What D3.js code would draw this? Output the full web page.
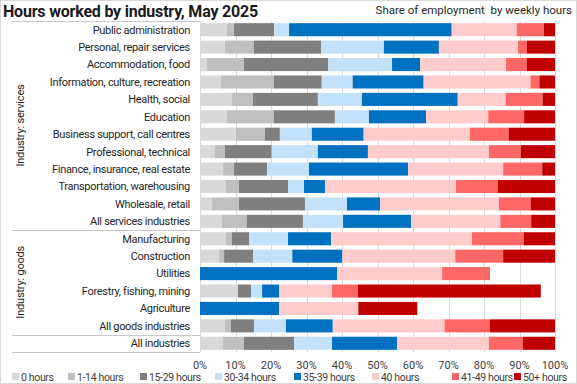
<!DOCTYPE html>
<html>
<head>
<meta charset="utf-8">
<script src="https://cdn.jsdelivr.net/npm/d3@7"></script>
<style>
  body { margin: 0; background: #fff; }
  svg text { font-family: "Liberation Sans Narrow", "Roboto", sans-serif; }
</style>
</head>
<body>
<div id="HoursChart"></div>
<script>
var industries = [
  'Public administration', 'Personal, repair services', 'Accommodation, food',
  'Information, culture, recreation', 'Health, social', 'Education',
  'Business support, call centres', 'Professional, technical',
  'Finance, insurance, real estate', 'Transportation, warehousing',
  'Wholesale, retail', 'All services industries',
  'Manufacturing', 'Construction', 'Utilities', 'Forestry, fishing, mining',
  'Agriculture', 'All goods industries',
  'All industries'
];
var hourBands = ['0 hours', '1-14 hours', '15-29 hours', '30-34 hours', '35-39 hours', '40 hours', '41-49 hours', '50+ hours'];
var groups = [
  { label: 'Industry: services', from: 'Public administration', to: 'All services industries' },
  { label: 'Industry: goods', from: 'Manufacturing', to: 'All goods industries' }
];
var ticks = [0, 10, 20, 30, 40, 50, 60, 70, 80, 90, 100];

// share of employment (%) by band, one value per industry in the order above
var h0    = [7.5, 7.0, 1.9, 5.9, 9.0, 7.6, 10.1, 4.2, 6.5, 7.3, 3.4, 6.2, 7.3, 5.4, 0, 10.7, 0, 7.0, 6.5];
var h1_14 = [2.1, 8.2, 10.5, 14.9, 5.9, 13.2, 8.2, 2.8, 3.1, 3.7, 7.6, 7.0, 1.7, 1.4, 0, 0, 0, 1.7, 5.9];
var h15_29 = [11.3, 18.9, 23.7, 13.5, 18.3, 17.2, 4.2, 13.2, 9.3, 13.8, 18.6, 15.8, 4.8, 8.2, 0, 3.7, 0, 6.5, 14.1];
var h30_34 = [4.2, 17.7, 18.0, 8.7, 12.4, 9.6, 9.0, 13.0, 11.8, 4.5, 11.8, 11.3, 11.0, 11.0, 0, 3.1, 0, 9.0, 10.7];
var h35_39 = [45.8, 15.5, 7.9, 20.0, 27.0, 16.1, 14.6, 14.1, 27.9, 5.9, 9.3, 19.2, 12.1, 14.1, 38.6, 4.8, 22.3, 13.2, 18.3];
var h40    = [18.3, 22.3, 24.2, 30.1, 13.5, 17.5, 29.9, 34.1, 26.8, 36.9, 33.5, 25.1, 39.7, 31.8, 29.6, 14.9, 22.3, 31.5, 25.9];
var h41_49 = [7.7, 2.5, 5.9, 2.5, 10.4, 10.1, 11.0, 9.0, 11.0, 11.8, 9.0, 8.7, 14.6, 13.5, 13.5, 7.3, 0, 12.7, 9.6];
var h50    = [3.1, 7.9, 7.9, 4.4, 3.5, 8.7, 13.0, 9.6, 3.6, 16.1, 6.8, 6.7, 8.8, 14.6, 0, 51.5, 16.6, 18.4, 9.0];

var bandColors = ['#d9d9d9', '#bfbfbf', '#7f7f7f', '#c3e2fa', '#0070c0', '#ffcccc', '#ff6666', '#c00000'];

var HoursChart = {

  draw: function() {
    var series = [h0, h1_14, h15_29, h30_34, h35_39, h40, h41_49, h50];
    var rows = industries.map(function(name, i) {
      var r = { industry: name };
      hourBands.forEach(function(b, j) { r[b] = series[j][i]; });
      return r;
    });

    var width = 577, height = 384;
    var svg = d3.select('#HoursChart').append('svg')
      .attr('width', width)
      .attr('height', height);

    // frame
    svg.append('rect')
      .attr('x', 0.5).attr('y', 0.5)
      .attr('width', width - 1).attr('height', height - 1)
      .attr('fill', '#fff')
      .attr('stroke', '#d9d9d9');

    var x = d3.scaleLinear().domain([0, 100]).range([200, 555]);
    var y = d3.scaleBand().domain(industries).range([21, 352])
      .paddingInner(0.25).paddingOuter(0.125);

    svg.append('text')
      .attr('x', 3).attr('y', 17)
      .style('font-size', '16px')
      .style('font-weight', 'bold')
      .style('letter-spacing', '-0.2px')
      .attr('fill', '#1a1a1a')
      .text('Hours worked by industry, May 2025');
    svg.append('text')
      .attr('x', 572).attr('y', 14)
      .attr('text-anchor', 'end')
      .style('font-size', '11.5px')
      .style('white-space', 'pre')
      .attr('fill', '#262626')
      .text('Share of employment  by weekly hours');

    // gridlines
    svg.append('g').selectAll('line').data(ticks).enter()
      .append('line')
      .attr('x1', function(d) { return Math.round(x(d)) + 0.5; })
      .attr('x2', function(d) { return Math.round(x(d)) + 0.5; })
      .attr('y1', 21).attr('y2', 352)
      .attr('stroke', '#d9d9d9')
      .attr('stroke-width', 1);

    // stacked bars
    var stack = d3.stack().keys(hourBands)(rows);
    var color = d3.scaleOrdinal().domain(hourBands).range(bandColors);
    svg.append('g').selectAll('g').data(stack).enter()
      .append('g')
      .attr('fill', function(d) { return color(d.key); })
      .selectAll('rect').data(function(d) { return d; }).enter()
      .append('rect')
      .attr('x', function(d) { return x(d[0]); })
      .attr('y', function(d) { return y(d.data.industry); })
      .attr('width', function(d) { return Math.max(0, x(d[1]) - x(d[0])); })
      .attr('height', y.bandwidth());

    // category labels
    svg.append('g').selectAll('text').data(industries).enter()
      .append('text')
      .attr('x', 190)
      .attr('y', function(d) { return y(d) + y.bandwidth() / 2; })
      .attr('dy', '0.35em')
      .attr('text-anchor', 'end')
      .style('font-size', '11px')
      .style('letter-spacing', '-0.3px')
      .attr('fill', '#262626')
      .text(function(d) { return d; });

    // group separators (top, between groups, bottom)
    var step = y.step();
    var sepY = [21];
    groups.forEach(function(g) {
      sepY.push(y(g.to) - y.paddingInner() * step / 2 + step);
    });
    sepY.push(352);
    svg.append('g').selectAll('line').data(sepY).enter()
      .append('line')
      .attr('x1', 12).attr('x2', 200)
      .attr('y1', function(d) { return Math.round(d) + 0.5; })
      .attr('y2', function(d) { return Math.round(d) + 0.5; })
      .attr('stroke', '#c8c8c8');

    // group labels, rotated
    svg.append('g').selectAll('text').data(groups).enter()
      .append('text')
      .attr('transform', function(g) {
        var cy = (y(g.from) + y(g.to) + y.bandwidth()) / 2;
        return 'translate(24,' + cy + ') rotate(-90)';
      })
      .attr('text-anchor', 'middle')
      .style('font-size', '11px')
      .style('letter-spacing', '-0.2px')
      .attr('fill', '#262626')
      .text(function(g) { return g.label; });

    // x axis tick labels
    svg.append('g').selectAll('text').data(ticks).enter()
      .append('text')
      .attr('x', function(d) { return x(d); })
      .attr('y', 369)
      .attr('text-anchor', 'middle')
      .style('font-size', '11px')
      .attr('fill', '#404040')
      .text(function(d) { return d + '%'; });

    // legend
    var legendX = [12, 68, 140, 215, 294, 372, 452, 514];
    var lg = svg.append('g').selectAll('g').data(hourBands).enter()
      .append('g')
      .attr('transform', function(d, i) { return 'translate(' + legendX[i] + ',373)'; });
    lg.append('rect')
      .attr('width', 7).attr('height', 7)
      .attr('fill', function(d) { return color(d); });
    lg.append('text')
      .attr('x', 9).attr('y', 8)
      .style('font-size', '10.5px')
      .style('letter-spacing', '-0.35px')
      .attr('fill', '#404040')
      .text(function(d) { return d; });
  }

};

HoursChart.draw();
</script>
</body>
</html>
